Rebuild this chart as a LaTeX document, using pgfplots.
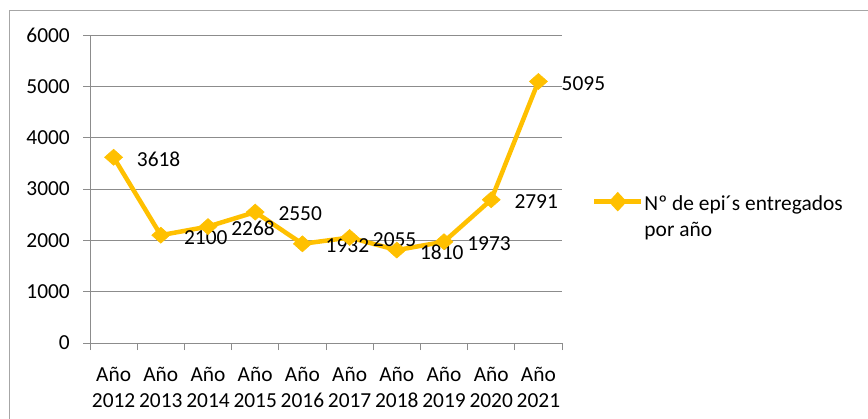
\documentclass[border=0pt]{standalone}
\usepackage{pgfplots}
\pgfplotsset{compat=1.18}
\usepackage{fontspec}
\setmainfont{Carlito}
\definecolor{gold}{HTML}{FFC000}
\definecolor{gridgray}{HTML}{8C8C8C}
\definecolor{framegray}{HTML}{A6A6A6}
\pgfplotstableread{
x y lab
0 3618 3618
1 2100 2100
2 2268 2268
3 2550 2550
4 1932 1932
5 2055 2055
6 1810 1810
7 1973 1973
8 2791 2791
9 5095 5095
}\epidata
\begin{document}
\fontsize{21.4bp}{26.4bp}\selectfont
\begin{tikzpicture}[x=1bp,y=1bp]
\path[use as bounding box] (0,0) rectangle (868,418);
\draw[framegray, line width=1.3bp] (9.7,-20) rectangle (900,407.3);
\begin{axis}[
  at={(90bp,75bp)}, anchor=south west,
  scale only axis, width=472bp, height=308bp,
  clip=false,
  xmin=-0.5, xmax=9.5, ymin=0, ymax=6000,
  axis lines*=left,
  axis line style={gridgray, line width=0.9bp},
  ytick={0,1000,...,6000},
  ymajorgrids,
  major grid style={gridgray, line width=0.9bp},
  xtick={0,...,9},
  xticklabels={{Año\\2012},{Año\\2013},{Año\\2014},{Año\\2015},{Año\\2016},{Año\\2017},{Año\\2018},{Año\\2019},{Año\\2020},{Año\\2021}},
  minor xtick={-0.5,0.5,...,9.5},
  tick align=outside,
  major tick length=7bp, minor tick length=7bp,
  major x tick style={draw=none},
  minor x tick style={gridgray, line width=0.9bp},
  y tick style={gridgray, line width=0.9bp},
  xticklabel style={align=center, inner sep=0pt, yshift=-17bp},
  yticklabel style={inner sep=0pt, xshift=-13bp},
  /pgf/number format/assume math mode=true,
  /pgf/number format/1000 sep={},
  legend cell align=left,
  legend style={draw=none, fill=none, inner sep=0pt, outer sep=0pt,
    at={(1.0635,0.411)}, anchor=west, column sep=1bp,
    nodes={inner sep=0pt, align=left}},
  legend image code/.code={
    \draw[gold, line width=4.5bp] (0bp,16bp) -- (47bp,16bp);
    \fill[gold] (23.5bp,22.5bp) -- (29.5bp,16bp) -- (23.5bp,9.5bp) -- (17.5bp,16bp) -- cycle;
  },
]
\addplot[gold, line width=4.5bp, mark=diamond*, mark size=8bp,
  mark options={solid, line width=0.6bp, fill=gold, draw=gold, xscale=1.5},
  nodes near coords, point meta=explicit symbolic,
  every node near coord/.append style={anchor=west, xshift=23bp, yshift=-2bp, inner sep=0pt, text=black}]
  table[x=x, y=y, meta=lab] {\epidata};
\addlegendentry{Nº de epi´s entregados\\por año}
\end{axis}
\end{tikzpicture}
\end{document}
